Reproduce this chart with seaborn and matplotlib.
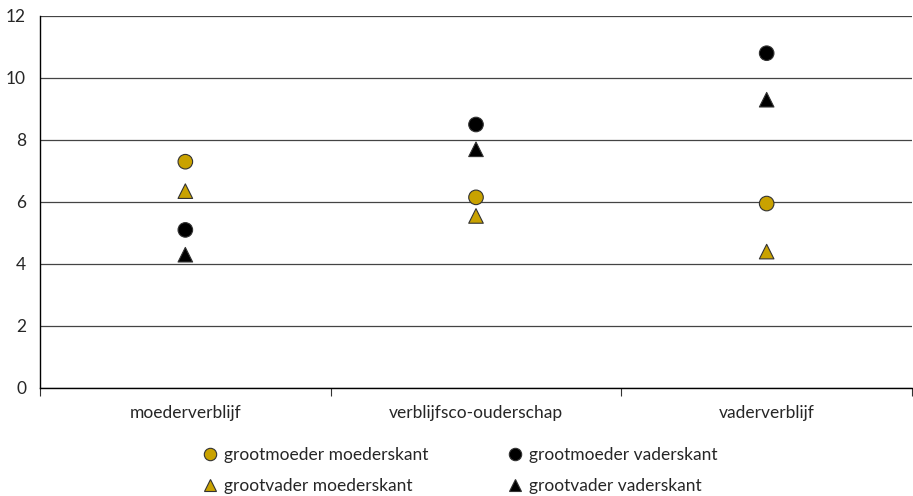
import matplotlib
matplotlib.use("Agg")
import matplotlib.pyplot as plt
import seaborn as sns
import pandas as pd

categories = ["moederverblijf", "verblijfsco-ouderschap", "vaderverblijf"]
series = ["grootmoeder moederskant", "grootvader moederskant",
          "grootmoeder vaderskant", "grootvader vaderskant"]
gm_moeder = [7.3, 6.15, 5.95]
gv_moeder = [6.35, 5.55, 4.4]
gm_vader = [5.1, 8.5, 10.8]
gv_vader = [4.3, 7.7, 9.3]
yticks = [0, 2, 4, 6, 8, 10, 12]

values = [gm_moeder, gv_moeder, gm_vader, gv_vader]
rows = []
for s, vals in zip(series, values):
    for c, v in zip(categories, vals):
        rows.append({"categorie": c, "reeks": s, "waarde": v})
df = pd.DataFrame(rows)
df["x"] = df["categorie"].map({c: i for i, c in enumerate(categories)})

sns.set_style("white")
plt.rcParams["font.family"] = ["Lato", "DejaVu Sans"]

yellow = "#C9A200"
palette = {series[0]: yellow, series[1]: yellow, series[2]: "black", series[3]: "black"}
markers = {series[0]: "o", series[1]: "^", series[2]: "o", series[3]: "^"}

fig = plt.figure(figsize=(9.13, 4.96), dpi=100)
ax = fig.add_axes([40 / 913, 1 - 388 / 496, 872 / 913, 372 / 496])

sns.scatterplot(data=df, x="x", y="waarde", hue="reeks", style="reeks",
                hue_order=series, style_order=series,
                palette=palette, markers=markers, s=110,
                edgecolor="#333333", linewidth=0.8, ax=ax, zorder=3, legend=True)

ax.set_xlim(-0.5, 2.5)
ax.set_ylim(0, 12)
ax.set_yticks(yticks)
ax.set_yticklabels([str(t) for t in yticks], fontsize=12.5)
ax.yaxis.grid(True, color="#444444", linewidth=0.9)
ax.set_axisbelow(True)
ax.set_xticks(range(len(categories)))
ax.set_xticklabels(categories, fontsize=12.5)
ax.set_xticks([-0.5, 0.5, 1.5, 2.5], minor=True)
ax.tick_params(axis="x", which="major", length=0, pad=12, bottom=True)
ax.tick_params(axis="x", which="minor", length=6, width=0.8, color="#333333",
               direction="out", bottom=True)
ax.tick_params(axis="y", length=0, pad=10)
ax.set_xlabel("")
ax.set_ylabel("")
for side in ["top", "right"]:
    ax.spines[side].set_visible(False)
for side in ["left", "bottom"]:
    ax.spines[side].set_color("black")
    ax.spines[side].set_linewidth(1.0)

handles, labels = ax.get_legend_handles_labels()
ax.get_legend().remove()
fig.legend(handles, labels, loc="upper center", bbox_to_anchor=(0.504, 0.13),
           ncol=2, frameon=False, fontsize=12.5, columnspacing=4.55,
           labelspacing=0.85, handlelength=0.9, handletextpad=0.35,
           markerscale=0.85)

fig.savefig("out.png", dpi=100)
